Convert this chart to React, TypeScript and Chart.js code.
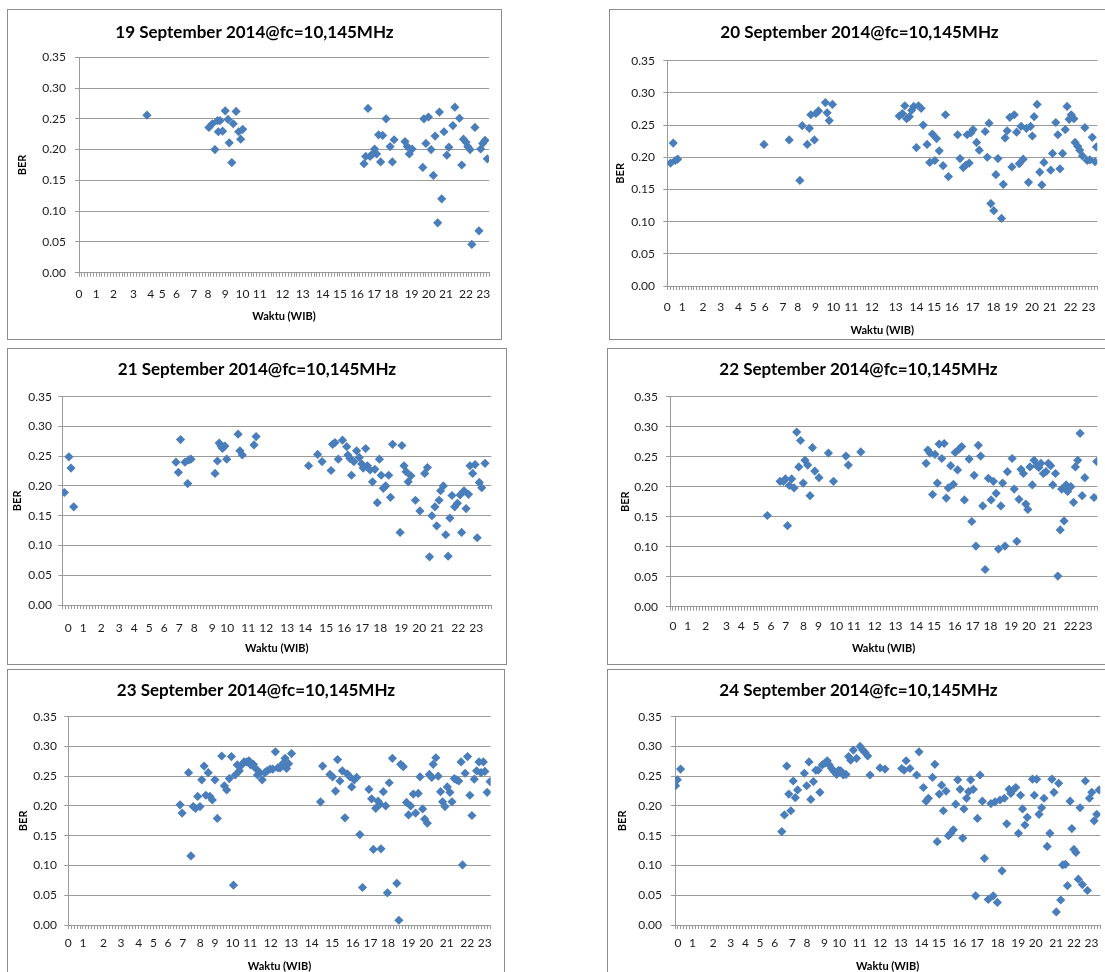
import { useEffect, useRef } from 'react';
import { Chart, registerables } from 'chart.js';

Chart.register(...registerables);

// Each day is plotted on a sample axis: one slot per measurement interval.
// hourTicks* hold the slot index where each hour label (0..23) sits.

const slots19 = 143;
const hourTicks19 = [0, 6, 12, 19, 25, 29, 34, 40, 45, 51, 57, 63, 71, 78, 85, 91, 97, 103, 109, 116, 122, 128, 135, 141];
const ber19: [number, number][] = [
  [23.7, 0.256],
  [45.3, 0.236], [46.5, 0.242], [47.4, 0.2], [48.3, 0.247], [48.6, 0.229], [49.2, 0.247], [50.1, 0.23], [51.0, 0.263],
  [52.0, 0.249], [52.4, 0.211], [53.3, 0.179], [53.8, 0.242], [54.8, 0.262], [55.7, 0.229], [56.4, 0.217], [57.1, 0.233],
  [99.4, 0.177], [100.0, 0.189], [100.8, 0.267], [101.5, 0.189], [102.4, 0.193], [103.1, 0.201], [103.8, 0.193], [104.5, 0.224],
  [105.2, 0.18], [105.9, 0.223], [107.1, 0.25], [108.5, 0.205], [109.3, 0.18], [109.9, 0.216], [113.7, 0.213], [114.5, 0.205],
  [115.2, 0.193], [116.2, 0.201], [119.9, 0.171], [120.3, 0.25], [121.0, 0.21], [121.9, 0.253], [122.8, 0.2], [123.6, 0.158],
  [124.2, 0.222], [125.1, 0.081], [125.7, 0.261], [126.5, 0.12], [127.3, 0.229], [128.3, 0.191], [129.0, 0.204], [130.4, 0.239],
  [131.1, 0.269], [132.7, 0.251], [133.5, 0.175], [134.1, 0.217], [135.0, 0.212], [135.6, 0.205], [136.4, 0.2], [137.0, 0.046],
  [138.1, 0.236], [139.5, 0.068], [140.1, 0.201], [140.8, 0.21], [141.6, 0.215], [142.4, 0.185],
];

const slots20 = 145;
const hourTicks20 = [0, 5, 12, 18, 24, 29, 33, 39, 44, 50, 56, 62, 69, 77, 84, 90, 96, 103, 110, 116, 123, 129, 136, 142];
const ber20: [number, number][] = [
  [1.1, 0.191], [2.0, 0.222], [2.7, 0.195], [3.5, 0.197], [32.6, 0.22], [41.1, 0.227], [44.7, 0.164], [45.5, 0.249],
  [47.2, 0.22], [47.9, 0.245], [48.4, 0.266], [49.6, 0.227], [50.1, 0.268], [51.0, 0.272], [53.3, 0.285], [53.9, 0.269],
  [54.6, 0.257], [55.7, 0.282],
  [78.2, 0.264], [79.3, 0.268], [80.1, 0.28], [80.7, 0.26], [81.6, 0.263], [82.4, 0.273], [83.1, 0.279], [84.0, 0.215],
  [84.7, 0.28], [85.6, 0.276], [86.3, 0.25], [87.6, 0.22], [88.5, 0.192], [89.4, 0.236], [90.2, 0.195], [90.8, 0.229],
  [91.7, 0.21], [93.0, 0.187], [93.8, 0.266], [94.8, 0.17], [97.9, 0.235], [98.7, 0.198], [99.8, 0.184], [100.7, 0.188],
  [101.1, 0.235], [101.8, 0.191], [102.4, 0.238], [103.1, 0.243], [104.3, 0.223], [105.2, 0.211], [107.2, 0.24], [107.9, 0.2],
  [108.5, 0.253], [109.1, 0.128], [110.1, 0.117], [110.8, 0.173], [111.5, 0.198], [112.7, 0.105], [113.3, 0.158], [113.9, 0.23],
  [114.6, 0.241], [115.5, 0.262], [116.2, 0.185], [117.0, 0.266], [117.8, 0.239], [118.7, 0.19], [119.3, 0.248], [120.0, 0.197],
  [121.1, 0.245], [121.8, 0.161], [122.5, 0.248], [123.1, 0.233], [123.7, 0.263], [124.7, 0.282], [125.6, 0.177], [126.3, 0.157],
  [127.0, 0.192], [129.3, 0.18], [129.9, 0.206], [131.0, 0.254], [131.7, 0.235], [132.4, 0.182], [133.3, 0.206], [134.2, 0.243],
  [134.8, 0.279], [135.5, 0.259], [136.2, 0.266], [137.1, 0.26], [137.5, 0.223], [138.4, 0.217], [139.1, 0.211], [140.0, 0.202],
  [140.8, 0.246], [141.6, 0.195], [142.5, 0.196], [143.3, 0.231], [144.2, 0.193], [144.7, 0.216],
];

const slots21 = 143;
const hourTicks21 = [2, 7, 13, 19, 24, 29, 34, 39, 44, 50, 55, 62, 68, 75, 81, 88, 94, 100, 106, 113, 119, 125, 132, 138];
const ber21: [number, number][] = [
  [0.7, 0.189], [2.2, 0.249], [2.9, 0.23], [3.8, 0.165],
  [37.9, 0.24], [38.7, 0.223], [39.4, 0.278], [40.9, 0.24], [41.8, 0.204], [42.2, 0.244], [42.9, 0.245],
  [50.9, 0.221], [51.7, 0.242], [52.3, 0.272], [52.9, 0.267], [53.4, 0.263], [54.2, 0.267], [54.8, 0.245],
  [58.6, 0.287], [59.2, 0.259], [60.0, 0.252], [63.9, 0.269], [64.6, 0.283],
  [82.1, 0.234], [85.1, 0.253], [86.6, 0.241], [89.6, 0.226], [90.1, 0.27], [90.9, 0.273], [92.0, 0.245], [93.4, 0.277],
  [94.8, 0.266], [95.2, 0.252], [95.9, 0.246], [96.4, 0.218], [97.2, 0.241], [98.1, 0.259], [99.0, 0.248], [99.8, 0.237],
  [100.3, 0.23], [101.1, 0.263], [101.7, 0.234], [102.6, 0.227], [103.4, 0.207], [104.2, 0.228], [105.0, 0.172], [105.7, 0.245],
  [106.3, 0.218], [107.0, 0.196], [107.8, 0.2], [108.8, 0.218], [109.4, 0.181], [110.1, 0.27], [112.6, 0.122], [113.2, 0.268],
  [113.9, 0.234], [114.6, 0.224], [115.3, 0.207], [116.2, 0.217], [117.7, 0.176], [119.2, 0.158], [120.8, 0.221], [121.7, 0.231],
  [122.4, 0.081], [123.2, 0.15], [124.2, 0.165], [124.8, 0.133], [125.6, 0.176], [126.1, 0.192], [127.0, 0.2], [127.8, 0.118],
  [128.6, 0.082], [129.2, 0.146], [129.9, 0.184], [130.8, 0.165], [131.7, 0.171], [132.6, 0.185], [133.1, 0.122], [133.9, 0.192],
  [134.6, 0.162], [135.4, 0.186], [135.9, 0.234], [136.8, 0.221], [137.6, 0.236], [138.3, 0.113], [139.0, 0.206], [139.8, 0.197],
  [140.9, 0.238],
];

const slots22 = 144;
const hourTicks22 = [1, 6, 12, 19, 24, 29, 34, 39, 45, 50, 56, 62, 69, 76, 83, 89, 96, 102, 108, 115, 121, 128, 135, 140];
const ber22: [number, number][] = [
  [32.8, 0.152], [37.1, 0.209], [38.2, 0.209], [38.9, 0.213], [39.6, 0.135], [40.2, 0.202], [41.0, 0.213], [41.8, 0.198],
  [42.7, 0.291], [43.4, 0.233], [44.0, 0.277], [44.9, 0.206], [45.5, 0.244], [46.4, 0.236], [47.2, 0.185], [48.0, 0.265],
  [48.8, 0.226], [50.2, 0.215], [53.4, 0.256], [55.1, 0.209], [59.3, 0.251], [60.1, 0.236], [64.3, 0.258],
  [86.3, 0.239], [86.9, 0.261], [87.6, 0.256], [88.5, 0.187], [89.3, 0.254], [90.1, 0.206], [90.7, 0.271], [91.6, 0.247],
  [92.4, 0.272], [93.1, 0.181], [93.8, 0.198], [94.6, 0.235], [95.5, 0.204], [96.1, 0.257], [96.9, 0.228], [97.5, 0.263],
  [98.3, 0.267], [99.2, 0.178], [100.8, 0.246], [101.7, 0.142], [102.5, 0.219], [103.1, 0.101], [103.9, 0.269], [104.7, 0.251],
  [105.4, 0.168], [106.2, 0.062], [107.3, 0.214], [108.2, 0.178], [109.0, 0.209], [109.9, 0.189], [110.7, 0.096], [111.5, 0.168],
  [112.1, 0.206], [112.9, 0.101], [113.7, 0.225], [115.3, 0.247], [116.0, 0.196], [116.9, 0.109], [117.6, 0.179], [118.3, 0.229],
  [119.1, 0.222], [119.9, 0.171], [120.6, 0.162], [121.3, 0.233], [122.1, 0.203], [122.7, 0.244], [123.6, 0.235], [124.3, 0.232],
  [125.0, 0.239], [125.8, 0.222], [126.7, 0.225], [127.5, 0.239], [128.3, 0.235], [129.0, 0.203], [129.9, 0.222], [130.7, 0.051],
  [131.5, 0.128], [132.0, 0.196], [132.8, 0.143], [133.5, 0.203], [134.0, 0.192], [135.1, 0.2], [136.0, 0.174], [136.6, 0.233],
  [137.4, 0.244], [138.2, 0.289], [138.9, 0.185], [139.8, 0.215], [142.9, 0.182], [143.8, 0.242],
];

const slots23 = 144;
const hourTicks23 = [0, 5, 12, 18, 24, 29, 34, 39, 45, 50, 56, 62, 69, 76, 83, 90, 97, 103, 109, 116, 122, 129, 136, 142];
const ber23: [number, number][] = [
  [38.1, 0.202], [38.8, 0.188], [41.0, 0.256], [41.8, 0.116], [42.6, 0.199], [43.4, 0.196], [44.1, 0.216], [44.9, 0.199],
  [45.5, 0.244], [46.3, 0.267], [46.9, 0.218], [47.7, 0.256], [48.3, 0.216], [49.1, 0.21], [50.0, 0.244], [50.8, 0.179],
  [52.3, 0.284], [53.2, 0.234], [54.0, 0.227], [54.9, 0.246], [55.6, 0.283], [56.3, 0.067], [56.9, 0.252], [57.6, 0.269],
  [58.3, 0.259], [59.1, 0.269], [59.9, 0.274], [60.8, 0.274], [61.6, 0.276], [62.2, 0.269], [63.1, 0.27], [63.9, 0.263],
  [64.5, 0.252], [65.3, 0.256], [66.1, 0.244], [67.0, 0.256], [67.8, 0.259], [68.8, 0.262], [69.7, 0.262], [70.6, 0.291],
  [71.4, 0.264], [72.2, 0.264], [73.1, 0.271], [73.9, 0.28], [74.4, 0.263], [75.1, 0.271], [76.1, 0.288],
  [86.0, 0.207], [86.7, 0.267], [89.2, 0.253], [90.1, 0.249], [91.1, 0.225], [91.8, 0.278], [92.6, 0.242], [93.4, 0.259],
  [94.3, 0.18], [95.1, 0.254], [96.0, 0.249], [96.6, 0.232], [97.5, 0.244], [98.3, 0.248], [99.4, 0.152], [100.3, 0.063],
  [102.5, 0.228], [103.4, 0.212], [104.0, 0.127], [104.8, 0.196], [105.6, 0.208], [106.3, 0.203], [106.6, 0.128], [107.4, 0.224],
  [108.2, 0.2], [108.8, 0.054], [109.4, 0.239], [110.5, 0.28], [112.0, 0.07], [112.7, 0.008], [113.3, 0.27], [114.2, 0.266],
  [115.3, 0.206], [116.0, 0.185], [116.7, 0.2], [117.6, 0.22], [118.4, 0.188], [119.3, 0.221], [119.9, 0.249], [120.8, 0.195],
  [121.5, 0.178], [122.4, 0.171], [123.1, 0.253], [123.9, 0.248], [124.4, 0.27], [125.3, 0.281], [126.1, 0.25], [126.9, 0.224],
  [127.6, 0.207], [128.4, 0.199], [129.2, 0.232], [130.1, 0.223], [130.8, 0.207], [131.6, 0.246], [132.4, 0.244], [133.1, 0.242],
  [133.9, 0.274], [134.4, 0.101], [135.3, 0.255], [136.1, 0.283], [136.9, 0.218], [137.6, 0.184], [138.4, 0.245], [139.2, 0.259],
  [140.0, 0.274], [140.7, 0.256], [141.5, 0.274], [142.0, 0.258], [142.8, 0.223], [143.8, 0.241],
];

const slots24 = 145;
const hourTicks24 = [1, 6, 13, 19, 24, 29, 34, 40, 45, 51, 56, 63, 70, 77, 84, 90, 97, 103, 110, 117, 123, 130, 136, 142];
const ber24: [number, number][] = [
  [0.2, 0.234], [0.8, 0.244], [1.9, 0.262],
  [36.4, 0.157], [37.3, 0.185], [38.1, 0.267], [38.8, 0.22], [39.5, 0.192], [40.3, 0.242], [41.0, 0.214], [41.8, 0.227],
  [44.1, 0.255], [44.9, 0.234], [45.7, 0.274], [46.3, 0.211], [47.2, 0.241], [48.0, 0.26], [48.8, 0.26], [49.4, 0.223],
  [50.2, 0.269], [51.1, 0.272], [51.9, 0.276], [52.6, 0.269], [53.4, 0.263], [54.2, 0.258], [55.1, 0.253], [55.8, 0.26],
  [56.5, 0.259], [57.4, 0.252], [58.3, 0.253], [59.2, 0.283], [59.9, 0.277], [60.8, 0.294], [61.9, 0.28], [63.1, 0.3],
  [64.0, 0.294], [64.8, 0.29], [65.7, 0.284], [66.5, 0.252], [69.9, 0.264], [71.6, 0.262],
  [77.3, 0.263], [78.1, 0.26], [78.8, 0.276], [80.1, 0.263], [82.4, 0.252], [83.2, 0.291], [84.7, 0.231], [85.6, 0.208],
  [86.4, 0.213], [87.8, 0.248], [88.6, 0.27], [89.4, 0.14], [90.1, 0.22], [90.9, 0.235], [91.5, 0.192], [92.4, 0.225],
  [93.2, 0.15], [94.0, 0.154], [94.9, 0.16], [95.7, 0.203], [96.4, 0.244], [97.2, 0.228], [98.1, 0.146], [98.5, 0.195],
  [99.4, 0.213], [100.1, 0.224], [100.8, 0.244], [101.7, 0.228], [102.5, 0.049], [103.1, 0.179], [104.0, 0.252], [104.8, 0.208],
  [105.5, 0.112], [106.8, 0.043], [107.7, 0.204], [108.5, 0.049], [109.1, 0.207], [109.9, 0.038], [110.8, 0.21], [111.5, 0.091],
  [112.3, 0.213], [113.1, 0.17], [113.9, 0.228], [114.5, 0.221], [115.3, 0.227], [116.2, 0.231], [117.1, 0.154], [117.8, 0.218],
  [118.5, 0.195], [119.3, 0.168], [120.1, 0.181], [121.9, 0.245], [122.5, 0.218], [123.3, 0.245], [124.1, 0.186], [125.0, 0.197],
  [125.8, 0.213], [126.9, 0.132], [127.8, 0.154], [128.5, 0.245], [129.2, 0.223], [130.0, 0.022], [130.8, 0.238], [131.5, 0.042],
  [132.2, 0.101], [133.1, 0.102], [133.8, 0.066], [134.7, 0.208], [135.3, 0.162], [136.0, 0.127], [136.7, 0.122], [137.5, 0.077],
  [138.1, 0.197], [138.9, 0.068], [139.9, 0.242], [140.6, 0.058], [141.3, 0.213], [142.1, 0.223], [142.9, 0.175], [143.8, 0.186],
  [144.6, 0.227],
];

const BLUE = '#4A7EBB';
const GRID = '#9a9a9a';
const FONT = 'Lato, "Open Sans", sans-serif';
const TICK_PX = 12;
const AXIS_TITLE_PX = 11;
const TITLE_PX = 17;
const TICK_LEN = 4;

// Page-space frame of one panel: outer box, plot rectangle and text rows.
type Frame = {
  left: number; top: number; width: number; height: number;
  plotLeft: number; plotTop: number; plotRight: number; plotBottom: number;
  titleY: number; xLabelY: number; xTitleY: number; yLabelRight: number; berX: number;
};

type PanelProps = {
  frame: Frame;
  title: string;
  points: [number, number][];
  hourTicks: number[];
  slots: number;
};

function Panel({ frame, title, points, hourTicks, slots }: PanelProps) {
  const ref = useRef<HTMLCanvasElement>(null);
  const W = frame.width - 2;
  const H = frame.height - 2;
  const ox = frame.left + 1;
  const oy = frame.top + 1;

  useEffect(() => {
    if (!ref.current) return;
    const titleLH = TITLE_PX * 1.2;
    const tickLH = TICK_PX * 1.2;
    const axisLH = AXIS_TITLE_PX * 1.2;

    const titleTop = frame.titleY - oy - titleLH / 2;
    const titleBottom = frame.plotTop - oy - titleTop - titleLH;
    const yWidth = frame.plotLeft - ox;
    const rightWidth = ox + W - frame.plotRight;
    const xHeight = oy + H - frame.plotBottom;
    const xTickPad = frame.xLabelY - frame.plotBottom - TICK_LEN - tickLH / 2;
    const xTitlePad = oy + H - frame.xTitleY - axisLH / 2;
    const yTickPad = frame.plotLeft - frame.yLabelRight - TICK_LEN;
    const berPad = frame.berX - ox - axisLH / 2;

    const chart = new Chart(ref.current, {
      type: 'scatter',
      data: {
        datasets: [
          {
            data: points.map(([x, y]) => ({ x, y })),
            pointStyle: 'rectRot',
            pointRadius: 4.6,
            pointHoverRadius: 4.6,
            backgroundColor: BLUE,
            borderColor: BLUE,
            borderWidth: 0,
          },
        ],
      },
      options: {
        responsive: false,
        animation: false,
        events: [],
        layout: { padding: 0 },
        plugins: {
          legend: { display: false },
          tooltip: { enabled: false },
          title: {
            display: true,
            text: title,
            color: '#000',
            font: { family: FONT, size: TITLE_PX, weight: 'bold', lineHeight: 1.2 },
            padding: { top: titleTop, bottom: titleBottom },
          },
        },
        scales: {
          x: {
            type: 'linear',
            position: 'bottom',
            min: 0,
            max: slots,
            ticks: {
              stepSize: 1,
              autoSkip: false,
              maxRotation: 0,
              minRotation: 0,
              padding: xTickPad,
              color: '#1a1a1a',
              font: { family: FONT, size: TICK_PX, lineHeight: 1.2 },
              callback: (v) => {
                const h = hourTicks.indexOf(Number(v));
                return h >= 0 ? String(h) : '';
              },
            },
            grid: { drawOnChartArea: false, drawTicks: true, tickLength: TICK_LEN, color: GRID, tickColor: GRID },
            border: { display: true, color: GRID },
            title: {
              display: true,
              text: 'Waktu (WIB)',
              color: '#000',
              font: { family: FONT, size: AXIS_TITLE_PX, weight: 'bold', lineHeight: 1.2 },
              padding: { top: 0, bottom: xTitlePad },
            },
            afterFit: (s) => {
              s.height = xHeight;
            },
          },
          y: {
            type: 'linear',
            position: 'left',
            min: 0,
            max: 0.35,
            ticks: {
              stepSize: 0.05,
              padding: yTickPad,
              color: '#1a1a1a',
              font: { family: FONT, size: TICK_PX, lineHeight: 1.2 },
              callback: (v) => Number(v).toFixed(2),
            },
            grid: { color: GRID, tickColor: GRID, tickLength: TICK_LEN },
            border: { display: true, color: GRID },
            title: {
              display: true,
              text: 'BER',
              color: '#000',
              font: { family: FONT, size: AXIS_TITLE_PX, weight: 'bold', lineHeight: 1.2 },
              padding: { top: berPad, bottom: 0 },
            },
            afterFit: (s) => {
              s.width = yWidth;
            },
          },
          edge: {
            type: 'linear',
            position: 'right',
            display: true,
            ticks: { display: false },
            grid: { display: false },
            border: { display: false },
            afterFit: (s) => {
              s.width = rightWidth;
            },
          },
        },
      },
    });
    return () => chart.destroy();
  }, []);

  return (
    <div
      style={{
        position: 'absolute',
        left: frame.left,
        top: frame.top,
        width: frame.width,
        height: frame.height,
        border: '1px solid #8c8c8c',
        boxSizing: 'border-box',
        background: '#fff',
      }}
    >
      <canvas ref={ref} width={W} height={H} style={{ display: 'block', width: W, height: H }} />
    </div>
  );
}

const frames: Frame[] = [
  { left: 7, top: 9, width: 495, height: 331, plotLeft: 79, plotTop: 57.3, plotRight: 489, plotBottom: 272.7,
    titleY: 33, xLabelY: 294, xTitleY: 316, yLabelRight: 66, berX: 22 },
  { left: 609, top: 9, width: 501, height: 331, plotLeft: 667.3, plotTop: 60.7, plotRight: 1097.3, plotBottom: 286,
    titleY: 33, xLabelY: 307, xTitleY: 330, yLabelRight: 655, berX: 620 },
  { left: 7, top: 348, width: 500, height: 317, plotLeft: 62.3, plotTop: 396.7, plotRight: 491.3, plotBottom: 605,
    titleY: 370, xLabelY: 628, xTitleY: 648, yLabelRight: 52, berX: 17 },
  { left: 607, top: 348, width: 503, height: 317, plotLeft: 670, plotTop: 396.7, plotRight: 1097.3, plotBottom: 606.7,
    titleY: 370, xLabelY: 626, xTitleY: 648, yLabelRight: 658, berX: 625 },
  { left: 7, top: 669, width: 498, height: 320, plotLeft: 68.3, plotTop: 716.7, plotRight: 490.7, plotBottom: 925,
    titleY: 691, xLabelY: 943, xTitleY: 966, yLabelRight: 57, berX: 23 },
  { left: 607, top: 669, width: 503, height: 320, plotLeft: 675, plotTop: 716.7, plotRight: 1100.3, plotBottom: 925,
    titleY: 691, xLabelY: 943, xTitleY: 966, yLabelRight: 662, berX: 622 },
];

const days = [
  { title: '19 September 2014@fc=10,145MHz', points: ber19, hourTicks: hourTicks19, slots: slots19 },
  { title: '20 September 2014@fc=10,145MHz', points: ber20, hourTicks: hourTicks20, slots: slots20 },
  { title: '21 September 2014@fc=10,145MHz', points: ber21, hourTicks: hourTicks21, slots: slots21 },
  { title: '22 September 2014@fc=10,145MHz', points: ber22, hourTicks: hourTicks22, slots: slots22 },
  { title: '23 September 2014@fc=10,145MHz', points: ber23, hourTicks: hourTicks23, slots: slots23 },
  { title: '24 September 2014@fc=10,145MHz', points: ber24, hourTicks: hourTicks24, slots: slots24 },
];

export default function App() {
  return (
    <div
      style={{
        position: 'absolute',
        left: 0,
        top: 0,
        width: 1105,
        height: 972,
        overflow: 'hidden',
        background: '#fff',
      }}
    >
      {days.map((d, i) => (
        <Panel key={d.title} frame={frames[i]} title={d.title} points={d.points} hourTicks={d.hourTicks} slots={d.slots} />
      ))}
    </div>
  );
}
